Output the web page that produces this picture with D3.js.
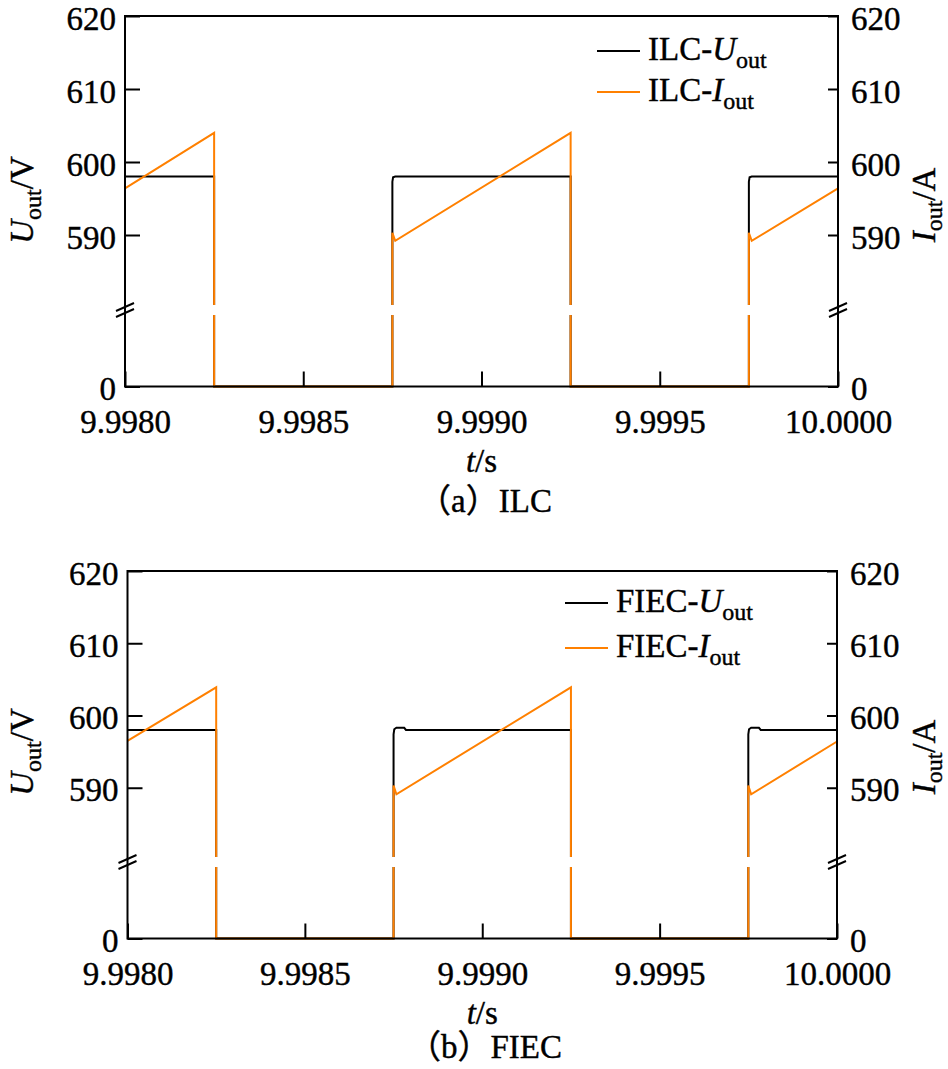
<!DOCTYPE html>
<html>
<head>
<meta charset="utf-8">
<script src="https://cdn.jsdelivr.net/npm/d3@7"></script>
<style>
  body { margin: 0; background: #fff; }
  svg { display: block; }
  svg text { font-family: "Liberation Serif", "Times New Roman", "Noto Sans CJK SC", serif; stroke: #000; stroke-width: 0.4px; }
</style>
</head>
<body>
<svg id="chart" width="948" height="1069"></svg>
<script>
// axis ticks
var xTicks = [9.9980, 9.9985, 9.9990, 9.9995, 10.0000];
var yTicks = [0, 590, 600, 610, 620];
var yBreak = 580;

// (a) ILC
var ilcUt = [9.9980, 9.99825, 9.99825, 9.99875, 9.99875, 9.998752, 9.998758, 9.99925, 9.99925, 9.99975, 9.99975, 9.999752, 9.999758, 10.0000];
var ilcUv = [598, 598, 0, 0, 597.3, 597.9, 598, 598, 0, 0, 597.3, 597.9, 598, 598];
var ilcIt = [9.9980, 9.99825, 9.99825, 9.99875, 9.99875, 9.998758, 9.99925, 9.99925, 9.99975, 9.99975, 9.999758, 10.0000];
var ilcIv = [596.4, 604.0, 0, 0, 590.3, 589.2, 604.0, 0, 0, 590.3, 589.2, 596.4];

// (b) FIEC
var fiecUt = [9.9980, 9.99825, 9.99825, 9.99875, 9.99875, 9.998752, 9.998758, 9.99878, 9.998785, 9.99925, 9.99925, 9.99975, 9.99975, 9.999752, 9.999758, 9.99978, 9.999785, 10.0000];
var fiecUv = [598, 598, 0, 0, 597.4, 598.1, 598.3, 598.3, 598, 598, 0, 0, 597.4, 598.1, 598.3, 598.3, 598, 598];
var fiecIt = [9.9980, 9.99825, 9.99825, 9.99875, 9.99875, 9.998758, 9.99925, 9.99925, 9.99975, 9.99975, 9.999758, 10.0000];
var fiecIv = [596.5, 603.9, 0, 0, 590.3, 589.1, 603.9, 0, 0, 590.3, 589.1, 596.4];

var panelNames = ['ILC', 'FIEC'];
var captions = ['\uFF08a\uFF09ILC', '\uFF08b\uFF09FIEC'];

var orange = '#ff8000';

var svg = d3.select('#chart');

function drawPanel(p) {
	var g = svg.append('g');

	var x = d3.scaleLinear().domain([xTicks[0], xTicks[xTicks.length - 1]]).range([p.left, p.right]);
	// broken axis: 0 at the bottom, 580..620 above the break
	var y = d3.scaleLinear().domain([0, yBreak, 620]).range([p.bottom, p.breakY, p.top]);

	var line = d3.line().x(function(d){ return x(d[0]); }).y(function(d){ return y(d[1]); });

	g.append('path')
		.attr('d', line(d3.zip(p.ut, p.uv)))
		.attr('fill', 'none').attr('stroke', '#000').attr('stroke-width', 2);
	g.append('path')
		.attr('d', line(d3.zip(p.it, p.iv)))
		.attr('fill', 'none').attr('stroke', orange).attr('stroke-width', 2);

	// gap in the lines at the axis break
	var by = y(yBreak);
	g.append('rect')
		.attr('x', p.left + 1).attr('y', by - 3)
		.attr('width', p.right - p.left - 2).attr('height', 10)
		.attr('fill', '#fff');

	// frame
	g.append('rect')
		.attr('x', p.left).attr('y', p.top)
		.attr('width', p.right - p.left).attr('height', p.bottom - p.top)
		.attr('fill', 'none').attr('stroke', '#000').attr('stroke-width', 2);

	// axes
	var ax = g.append('g').attr('transform', 'translate(0,' + p.bottom + ')')
		.call(d3.axisBottom(x).tickValues(xTicks).tickSizeInner(-15).tickSizeOuter(0).tickPadding(23).tickFormat(d3.format('.4f')));
	var ayl = g.append('g').attr('transform', 'translate(' + p.left + ',0)')
		.call(d3.axisLeft(y).tickValues(yTicks).tickSizeInner(-15).tickSizeOuter(0).tickPadding(9).tickFormat(d3.format('d')));
	var ayr = g.append('g').attr('transform', 'translate(' + p.right + ',0)')
		.call(d3.axisRight(y).tickValues(yTicks).tickSizeInner(-10).tickSizeOuter(0).tickPadding(13).tickFormat(d3.format('d')));

	[ax, ayl, ayr].forEach(function(a){
		a.select('.domain').remove();
		a.attr('font-family', null).attr('font-size', 33);
		a.selectAll('line').attr('stroke', '#000').attr('stroke-width', 2);
		a.selectAll('text').attr('fill', '#000');
	});
	ayl.selectAll('text').attr('dy', '0.4em');
	ayr.selectAll('text').attr('dy', '0.4em');

	// break marks
	[p.left, p.right].forEach(function(cx){
		[-3, 3].forEach(function(off){
			g.append('line')
				.attr('x1', cx - 9).attr('y1', by + 2 + off + 4)
				.attr('x2', cx + 9).attr('y2', by + 2 + off - 4)
				.attr('stroke', '#000').attr('stroke-width', 2);
		});
	});

	// axis titles
	var yl = g.append('text')
		.attr('transform', 'translate(33,' + p.labelY + ') rotate(-90)')
		.attr('text-anchor', 'middle')
		.attr('font-size', 33);
	yl.append('tspan').attr('font-style', 'italic').text('U');
	yl.append('tspan').attr('font-size', 24).attr('dy', 8).text('out');
	yl.append('tspan').attr('dy', -8).text('/V');

	var yr = g.append('text')
		.attr('transform', 'translate(935,' + (p.labelY + 5) + ') rotate(-90)')
		.attr('text-anchor', 'middle')
		.attr('font-size', 33);
	yr.append('tspan').attr('font-style', 'italic').text('I');
	yr.append('tspan').attr('font-size', 24).attr('dy', 7).text('out');
	yr.append('tspan').attr('dy', -7).text('/A');

	var xt = g.append('text')
		.attr('x', (p.left + p.right) / 2).attr('y', p.bottom + 85)
		.attr('text-anchor', 'middle')
		.attr('font-size', 33);
	xt.append('tspan').attr('font-style', 'italic').text('t');
	xt.append('tspan').text('/s');

	g.append('text')
		.attr('x', 485).attr('y', p.captionY)
		.attr('text-anchor', 'middle')
		.attr('font-size', 33)
		.text(p.caption);

	// legend
	var items = [{name: p.name + '-', sym: 'U', color: '#000'}, {name: p.name + '-', sym: 'I', color: orange}];
	items.forEach(function(it, i){
		var ly = p.legY + i * p.legStep;
		g.append('line')
			.attr('x1', p.legX).attr('x2', p.legX + 43)
			.attr('y1', ly).attr('y2', ly)
			.attr('stroke', it.color).attr('stroke-width', 2);
		var t = g.append('text')
			.attr('x', p.legX + 51).attr('y', ly + 9)
			.attr('font-size', 33);
		t.append('tspan').text(it.name);
		t.append('tspan').attr('font-style', 'italic').text(it.sym);
		t.append('tspan').attr('font-size', 24).attr('dy', 8).text('out');
	});
}

drawPanel({
	left: 125, right: 838, top: 16, bottom: 386.5, breakY: 308,
	ut: ilcUt, uv: ilcUv, it: ilcIt, iv: ilcIv,
	name: panelNames[0], caption: captions[0], captionY: 512,
	labelY: 200, legX: 597, legY: 51, legStep: 41
});

drawPanel({
	left: 127.5, right: 837, top: 571, bottom: 938.5, breakY: 860,
	ut: fiecUt, uv: fiecUv, it: fiecIt, iv: fiecIv,
	name: panelNames[1], caption: captions[1], captionY: 1058,
	labelY: 752, legX: 565, legY: 603, legStep: 45
});
</script>
</body>
</html>
